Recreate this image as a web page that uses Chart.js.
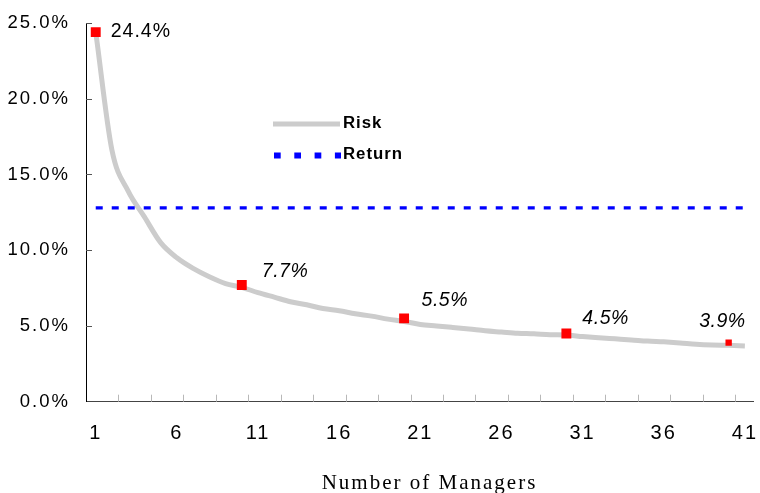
<!DOCTYPE html>
<html>
<head>
<meta charset="utf-8">
<script src="https://cdn.jsdelivr.net/npm/chart.js@4.4.1/dist/chart.umd.min.js"></script>
<style>
  html, body { margin: 0; padding: 0; background: #ffffff; overflow: hidden; }
  canvas { display: block; }
</style>
</head>
<body>
<canvas id="chart" width="760" height="493"></canvas>
<script>
// Portfolio risk (standard deviation, %) by number of managers held
const managers = [1, 2, 3, 4, 5, 6, 7, 8, 9, 10, 11, 12, 13, 14, 15, 16, 17, 18, 19, 20,
                  21, 22, 23, 24, 25, 26, 27, 28, 29, 30, 31, 32, 33, 34, 35, 36, 37, 38, 39, 40, 41];
const riskPct = [24.4, 16.6, 13.9, 12.2, 10.5, 9.5, 8.8, 8.25, 7.8, 7.55,
                 7.2, 6.9, 6.6, 6.4, 6.15, 6.0, 5.8, 5.65, 5.45, 5.3,
                 5.1, 5.0, 4.9, 4.8, 4.68, 4.6, 4.52, 4.48, 4.42, 4.4,
                 4.3, 4.22, 4.15, 4.08, 4.0, 3.95, 3.88, 3.8, 3.75, 3.72, 3.68];
const returnPct = 12.8;

// Highlighted points with their value labels
const highlightManagers = [1, 10, 20, 30, 40];
const highlightRisk = [24.4, 7.7, 5.5, 4.5, 3.9];
const highlightLabels = ['24.4%', '7.7%', '5.5%', '4.5%', '3.9%'];

const seriesNames = ['Risk', 'Return'];
const xTickValues = [1, 6, 11, 16, 21, 26, 31, 36, 41];
const yTickValues = [0, 5, 10, 15, 20, 25];
const xTitle = 'Number of Managers';

const SANS = '"Liberation Sans", Arial, sans-serif';
const SERIF = '"Liberation Serif", "Times New Roman", serif';

// Label placement relative to each highlighted point
const labelStyle = [
  { dx: 15, dy: 0, italic: false, size: 19.5 },
  { dx: 20, dy: -13.5, italic: true, size: 19.5 },
  { dx: 17.5, dy: -18, italic: true, size: 19.5 },
  { dx: 16, dy: -14.5, italic: true, size: 19.5 },
  { dx: -29.5, dy: -21, italic: true, size: 19.5 }
];

const riskData = managers.map((m, i) => ({ x: m, y: riskPct[i] }));
const returnData = [
  { x: managers[0], y: returnPct },
  { x: managers[managers.length - 1], y: returnPct }
];
const highlightData = highlightManagers.map((m, i) => ({ x: m, y: highlightRisk[i] }));

// Spacing for axis tick text
const spacingPlugin = {
  id: 'spacing',
  beforeDraw(chart) { chart.ctx.letterSpacing = '2px'; },
  afterDraw(chart) { chart.ctx.letterSpacing = '0px'; }
};

// Inner tick marks, point labels, legend and axis title
const decorPlugin = {
  id: 'decor',
  afterDatasetsDraw(chart) {
    const ctx = chart.ctx;
    const xs = chart.scales.x, ys = chart.scales.y;
    const area = chart.chartArea;
    ctx.save();
    ctx.letterSpacing = '0px';

    // y-axis ticks pointing into the plot
    ctx.strokeStyle = '#555555';
    ctx.lineWidth = 1;
    yTickValues.forEach(v => {
      if (v === ys.min) return;
      const py = Math.round(ys.getPixelForValue(v)) + 0.5;
      ctx.beginPath();
      ctx.moveTo(area.left, py);
      ctx.lineTo(area.left + 6, py);
      ctx.stroke();
    });

    // x-axis minor ticks every two managers
    ctx.strokeStyle = '#b8b8b8';
    for (let v = xs.min + 2; v < xs.max; v += 2) {
      const px = Math.round(xs.getPixelForValue(v)) + 0.5;
      ctx.beginPath();
      ctx.moveTo(px, area.bottom);
      ctx.lineTo(px, area.bottom - 7);
      ctx.stroke();
    }

    // value labels
    ctx.fillStyle = '#000000';
    ctx.textBaseline = 'middle';
    ctx.textAlign = 'left';
    highlightData.forEach((p, i) => {
      const s = labelStyle[i];
      ctx.font = (s.italic ? 'italic ' : '') + s.size + 'px ' + SANS;
      ctx.letterSpacing = s.italic ? '0.5px' : '1px';
      ctx.fillText(highlightLabels[i], xs.getPixelForValue(p.x) + s.dx, ys.getPixelForValue(p.y) + s.dy);
    });

    // legend
    const lx = area.left + 187, lx2 = area.left + 254;
    const ry = area.top + 101, ty = area.top + 132.5;
    ctx.strokeStyle = '#cccccc';
    ctx.lineWidth = 5;
    ctx.beginPath();
    ctx.moveTo(lx, ry); ctx.lineTo(lx2, ry);
    ctx.stroke();
    ctx.strokeStyle = '#0000ff';
    ctx.lineWidth = 6;
    ctx.setLineDash([6.7, 13.6]);
    ctx.beginPath();
    ctx.moveTo(lx + 1, ty); ctx.lineTo(lx2 + 1, ty);
    ctx.stroke();
    ctx.setLineDash([]);
    ctx.font = 'bold 16.8px ' + SANS;
    ctx.letterSpacing = '1px';
    ctx.fillText(seriesNames[0], lx2 + 3, ry - 0.5);
    ctx.fillText(seriesNames[1], lx2 + 3, ty - 1.5);

    // x-axis title
    ctx.font = '21px ' + SERIF;
    ctx.letterSpacing = '2px';
    ctx.textAlign = 'center';
    ctx.fillText(xTitle, (area.left + area.right) / 2 + 10, 483);
    ctx.restore();
  }
};

new Chart(document.getElementById('chart'), {
  type: 'line',
  data: {
    datasets: [
      {
        label: 'highlight',
        data: highlightData,
        showLine: false,
        pointStyle: 'rect',
        pointRadius: [7, 7, 7, 7, 4.5],
        pointBackgroundColor: '#ff0000',
        pointBorderWidth: 0,
        order: 0
      },
      {
        label: seriesNames[1],
        data: returnData,
        borderColor: '#0000ff',
        borderWidth: 3.3,
        borderDash: [7, 9],
        pointRadius: 0,
        order: 1
      },
      {
        label: seriesNames[0],
        data: riskData,
        borderColor: '#cccccc',
        borderWidth: 5,
        cubicInterpolationMode: 'monotone',
        pointRadius: 0,
        order: 2
      }
    ]
  },
  options: {
    responsive: false,
    devicePixelRatio: 1,
    animation: false,
    events: [],
    layout: { padding: { top: 23, right: 5, left: 0, bottom: 0 } },
    plugins: { legend: { display: false }, tooltip: { enabled: false } },
    scales: {
      x: {
        type: 'linear',
        min: 0.4,
        max: 41.5,
        afterBuildTicks(scale) { scale.ticks = xTickValues.map(v => ({ value: v })); },
        afterFit(scale) { scale.height = 91.3; scale.paddingLeft = 0; scale.paddingRight = 0; },
        grid: { display: false, drawTicks: false },
        border: { display: true, color: '#444444', width: 1 },
        ticks: {
          autoSkip: false,
          maxRotation: 0,
          padding: 20,
          color: '#000000',
          font: { family: SANS, size: 20 },
          callback: v => String(v)
        }
      },
      y: {
        min: 0,
        max: 25,
        afterBuildTicks(scale) { scale.ticks = yTickValues.map(v => ({ value: v })); },
        afterFit(scale) { scale.width = 86; scale.paddingTop = 0; scale.paddingBottom = 0; },
        grid: { display: false, drawTicks: false },
        border: { display: true, color: '#000000', width: 1 },
        ticks: {
          padding: 16,
          color: '#000000',
          font: { family: SANS, size: 18.5 },
          callback: v => v.toFixed(1) + '%'
        }
      }
    }
  },
  plugins: [spacingPlugin, decorPlugin]
});
</script>
</body>
</html>
